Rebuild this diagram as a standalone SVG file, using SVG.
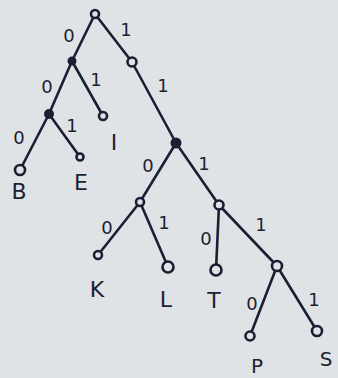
<svg xmlns="http://www.w3.org/2000/svg" width="338" height="378" viewBox="0 0 338 378">
<style>
.e{stroke:#1b1f33;stroke-width:2.6;fill:none;stroke-linecap:round}
.n{fill:#dfe3e6;stroke:#1b1f33;stroke-width:2.6}
.d{fill:#1b1f33;stroke:#1b1f33;stroke-width:2}
.b{font-family:"DejaVu Sans",sans-serif;font-size:18px;fill:#1b1f33;text-anchor:middle}
.l{font-family:"DejaVu Sans",sans-serif;font-size:22px;fill:#1b1f33;text-anchor:middle}
</style>
<rect width="338" height="378" fill="#dfe3e6"/>
<g id="connectors">
<line class="e" x1="95" y1="14" x2="72" y2="61"/>
<line class="e" x1="95" y1="14" x2="132" y2="62"/>
<line class="e" x1="72" y1="61" x2="49" y2="114"/>
<line class="e" x1="72" y1="61" x2="103" y2="116"/>
<line class="e" x1="49" y1="114" x2="20" y2="170"/>
<line class="e" x1="49" y1="114" x2="80" y2="157"/>
<line class="e" x1="132" y1="62" x2="176" y2="143"/>
<line class="e" x1="176" y1="143" x2="140" y2="202"/>
<line class="e" x1="176" y1="143" x2="219" y2="205"/>
<line class="e" x1="140" y1="202" x2="98" y2="255"/>
<line class="e" x1="140" y1="202" x2="168" y2="267"/>
<line class="e" x1="219" y1="205" x2="216" y2="270"/>
<line class="e" x1="219" y1="205" x2="277" y2="266"/>
<line class="e" x1="277" y1="266" x2="250" y2="336"/>
<line class="e" x1="277" y1="266" x2="317" y2="331"/>
</g>
<g id="edge-labels">
<text class="b" x="69" y="42">0</text>
<text class="b" x="126" y="36">1</text>
<text class="b" x="47" y="93">0</text>
<text class="b" x="96" y="86">1</text>
<text class="b" x="19" y="144">0</text>
<text class="b" x="72" y="132">1</text>
<text class="b" x="163" y="92">1</text>
<text class="b" x="148" y="172">0</text>
<text class="b" x="204" y="170">1</text>
<text class="b" x="107" y="234">0</text>
<text class="b" x="164" y="229">1</text>
<text class="b" x="206" y="245">0</text>
<text class="b" x="261" y="231">1</text>
<text class="b" x="252" y="310">0</text>
<text class="b" x="314" y="306">1</text>
</g>
<g id="n-root"><circle class="n" cx="95" cy="14" r="4"/></g>
<g id="n-0"><circle class="d" cx="72" cy="61" r="3.5"/></g>
<g id="n-1"><circle class="n" cx="132" cy="62" r="4.5"/></g>
<g id="n-00"><circle class="d" cx="49" cy="114" r="4"/></g>
<g id="n-I"><circle class="n" cx="103" cy="116" r="4"/><text class="l" x="114" y="150">I</text></g>
<g id="n-B"><circle class="n" cx="20" cy="170" r="5"/><text class="l" x="19" y="199">B</text></g>
<g id="n-E"><circle class="n" cx="80" cy="157" r="3.5"/><text class="l" x="81" y="190">E</text></g>
<g id="n-11"><circle class="d" cx="176" cy="143" r="4.5"/></g>
<g id="n-110"><circle class="n" cx="140" cy="202" r="4"/></g>
<g id="n-111"><circle class="n" cx="219" cy="205" r="4.5"/></g>
<g id="n-K"><circle class="n" cx="98" cy="255" r="4"/><text class="l" x="97" y="297">K</text></g>
<g id="n-L"><circle class="n" cx="168" cy="267" r="5.5"/><text class="l" x="166" y="307">L</text></g>
<g id="n-T"><circle class="n" cx="216" cy="270" r="5.5"/><text class="l" x="214" y="308">T</text></g>
<g id="n-1111"><circle class="n" cx="277" cy="266" r="5"/></g>
<g id="n-P"><circle class="n" cx="250" cy="336" r="4.5"/><text class="l" x="257" y="373" style="font-size:20px">P</text></g>
<g id="n-S"><circle class="n" cx="317" cy="331" r="5"/><text class="l" x="326" y="366" style="font-size:20px">S</text></g>
</svg>
